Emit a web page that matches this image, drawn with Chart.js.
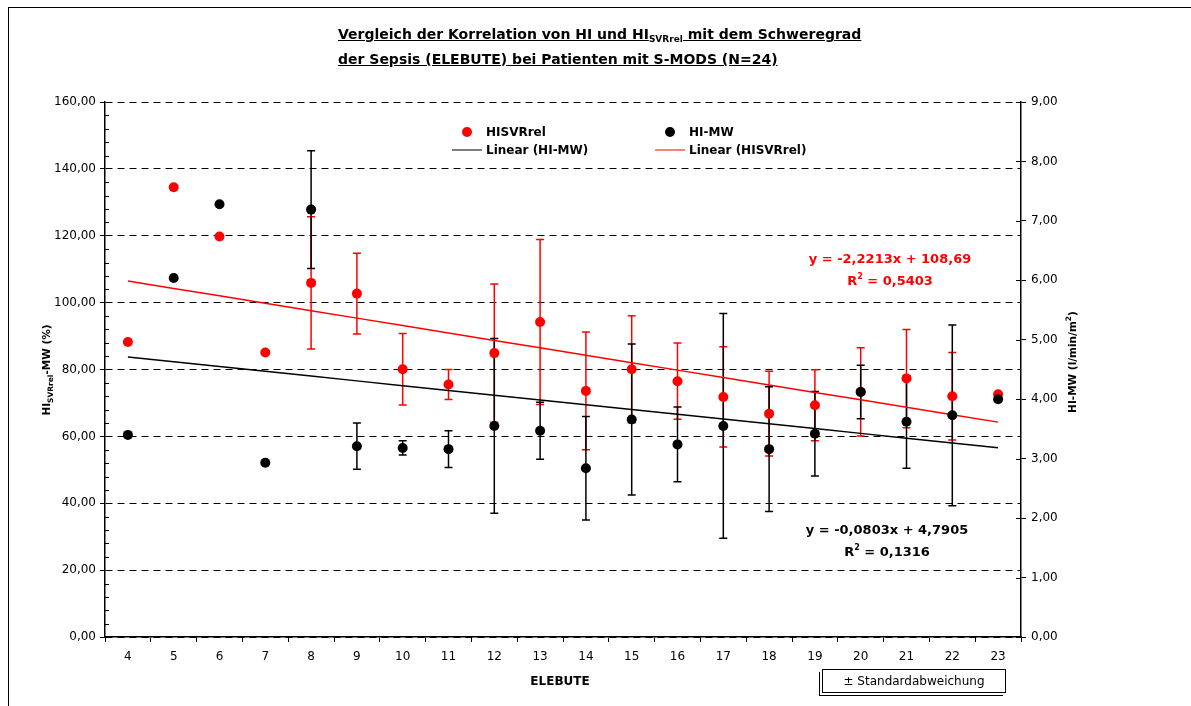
<!DOCTYPE html>
<html>
<head>
<meta charset="utf-8">
<script src="https://cdn.jsdelivr.net/npm/chart.js@4.4.1/dist/chart.umd.min.js"></script>
<style>
  html, body { margin: 0; padding: 0; background: #fff; }
  #wrap { position: relative; width: 1191px; height: 706px; overflow: hidden; font-family: "DejaVu Sans", sans-serif; color: #000; }
  canvas { position: absolute; left: 0; top: 0; }
  .frame { position: absolute; left: 8px; top: 7px; width: 1200px; height: 720px; border-top: 1px solid #000; border-left: 1px solid #000; }
  .abs { position: absolute; white-space: nowrap; }
  .title { left: 338px; top: 23px; font-weight: bold; font-size: 14px; line-height: 23px; text-decoration: underline; }
  .sub { font-size: 9px; position: relative; top: 3px; }
  .c { transform: translate(-50%, -50%); }
  .leg { font-weight: bold; font-size: 12px; transform: translateY(-50%); }
  .dot { position: absolute; width: 10px; height: 10px; border-radius: 50%; transform: translate(-50%, -50%); }
  .lline { position: absolute; height: 0; border-top: 1.5px solid; transform: translateY(-50%); }
  .eq { font-weight: bold; font-size: 13px; }
  .rot { transform: translate(-50%, -50%) rotate(-90deg); font-weight: bold; font-size: 10.5px; }
  .box { position: absolute; left: 822px; top: 669px; width: 182px; height: 22px; border: 1px solid #000; box-shadow: -2px 2px 0 0 #fff, -3px 3px 0 0 #000; font-size: 12px; line-height: 22px; text-align: center; background: #fff; }
</style>
</head>
<body>
<div id="wrap">
  <canvas id="c" width="1191" height="706"></canvas>
  <div class="frame"></div>
  <div class="abs title">Vergleich der Korrelation von HI und HI<span class="sub">SVRrel</span> mit dem Schweregrad<br>der Sepsis (ELEBUTE) bei Patienten mit S-MODS (N=24)</div>
  <div id="legend"></div>
  <div class="abs eq c" style="left:890px; top:258px; color:#ff0000;">y = -2,2213x + 108,69</div>
  <div class="abs eq c" style="left:890px; top:280px; color:#ff0000;">R<sup style="font-size:8px">2</sup> = 0,5403</div>
  <div class="abs eq c" style="left:887px; top:529px;">y = -0,0803x + 4,7905</div>
  <div class="abs eq c" style="left:887px; top:551px;">R<sup style="font-size:8px">2</sup> = 0,1316</div>
  <div class="abs rot" style="left:46px; top:370px;">HI<span class="sub" style="font-size:7.5px">SVRrel</span>-MW (%)</div>
  <div class="abs rot" style="left:1071px; top:362px;">HI-MW (l/min/m<sup style="font-size:7.5px">2</sup>)</div>
  <div class="abs c" style="left:560px; top:681px; font-weight:bold; font-size:12px;">ELEBUTE</div>
  <div class="box">± Standardabweichung</div>
</div>
<script>
// ---- data ----
const categories = ['4','5','6','7','8','9','10','11','12','13','14','15','16','17','18','19','20','21','22','23'];
const hisvrrelMean = [88.2, 134.5, 119.8, 85.1, 105.9, 102.7, 80.1, 75.5, 84.9, 94.2, 73.6, 80.1, 76.5, 71.8, 66.8, 69.3, 73.3, 77.3, 72.0, 72.6];
const hisvrrelSd   = [null, null, null, null, 19.8, 12.1, 10.7, 4.5, 20.7, 24.7, 17.6, 16.0, 11.4, 15.0, 12.7, 10.6, 13.2, 14.7, 13.1, null];
const himwMean = [3.40, 6.04, 7.28, 2.93, 7.19, 3.21, 3.18, 3.16, 3.55, 3.47, 2.84, 3.66, 3.24, 3.55, 3.16, 3.42, 4.12, 3.62, 3.73, 4.00];
const himwSd   = [null, null, null, null, 0.99, 0.39, 0.12, 0.31, 1.47, 0.48, 0.87, 1.27, 0.63, 1.89, 1.05, 0.71, 0.45, 0.78, 1.52, null];
const leftTicks = [0, 20, 40, 60, 80, 100, 120, 140, 160];
const rightTicks = [0, 1, 2, 3, 4, 5, 6, 7, 8, 9];
// trendline coefficients as printed in the chart (x = 1..20 category index)
const trendHisvrrel = { slope: -2.2213, intercept: 108.69 };
const trendHimw = { slope: -0.0803, intercept: 4.7905 };

const trendHisvrrelData = categories.map((c, i) => trendHisvrrel.intercept + trendHisvrrel.slope * (i + 1));
const trendHimwData = categories.map((c, i) => trendHimw.intercept + trendHimw.slope * (i + 1));

const FONT = '"DejaVu Sans", sans-serif';
const fmt = v => Number(v).toFixed(2).replace('.', ',');

const errorBars = {
  id: 'errorBars',
  beforeDatasetsDraw(chart) {
    const ctx = chart.ctx;
    const xs = chart.scales.x;
    const sets = [
      { mean: hisvrrelMean, sd: hisvrrelSd, scale: chart.scales.y, color: '#ff0000' },
      { mean: himwMean, sd: himwSd, scale: chart.scales.y2, color: '#000000' }
    ];
    ctx.save();
    ctx.lineWidth = 1.5;
    sets.forEach(s => {
      ctx.strokeStyle = s.color;
      s.mean.forEach((m, i) => {
        if (s.sd[i] == null) return;
        const x = xs.getPixelForValue(i);
        const yt = s.scale.getPixelForValue(m + s.sd[i]);
        const yb = s.scale.getPixelForValue(m - s.sd[i]);
        ctx.beginPath();
        ctx.moveTo(x, yt); ctx.lineTo(x, yb);
        ctx.moveTo(x - 4, yt); ctx.lineTo(x + 4, yt);
        ctx.moveTo(x - 4, yb); ctx.lineTo(x + 4, yb);
        ctx.stroke();
      });
    });
    ctx.restore();
  },
  afterDraw(chart) {
    const ctx = chart.ctx;
    const a = chart.chartArea;
    const ys = chart.scales.y, y2 = chart.scales.y2;
    ctx.save();
    ctx.strokeStyle = '#000';
    ctx.lineWidth = 1;
    ctx.beginPath();
    for (let v = 0; v <= 160; v += 4) {
      if (v % 20 === 0) continue;
      const py = Math.round(ys.getPixelForValue(v)) + 0.5;
      ctx.moveTo(a.left, py); ctx.lineTo(a.left + 4, py);
    }
    rightTicks.forEach(v => {
      const py = Math.round(y2.getPixelForValue(v)) + 0.5;
      ctx.moveTo(a.right - 5, py); ctx.lineTo(a.right, py);
    });
    ctx.stroke();
    ctx.restore();
  }
};

const datasets = [
  { label: 'HI-MW', data: himwMean, yAxisID: 'y2', showLine: false, pointRadius: 5, pointBackgroundColor: '#000', pointBorderColor: '#000', borderColor: '#000', backgroundColor: '#000', pointBorderWidth: 0 },
  { label: 'HISVRrel', data: hisvrrelMean, yAxisID: 'y', showLine: false, pointRadius: 5, pointBackgroundColor: '#ff0000', pointBorderColor: '#ff0000', borderColor: '#ff0000', backgroundColor: '#ff0000', pointBorderWidth: 0 },
  { label: 'Linear (HI-MW)', data: trendHimwData, yAxisID: 'y2', borderColor: '#000', borderWidth: 1.5, pointRadius: 0, fill: false, tension: 0 },
  { label: 'Linear (HISVRrel)', data: trendHisvrrelData, yAxisID: 'y', borderColor: '#ff0000', borderWidth: 1.5, pointRadius: 0, fill: false, tension: 0 }
];

const chart = new Chart(document.getElementById('c').getContext('2d'), {
  type: 'line',
  data: { labels: categories, datasets },
  plugins: [errorBars],
  options: {
    responsive: false,
    animation: false,
    devicePixelRatio: 1,
    layout: { padding: { top: 102, left: 0, right: 0, bottom: 0 } },
    plugins: { legend: { display: false }, tooltip: { enabled: false }, title: { display: false } },
    scales: {
      x: {
        type: 'category', offset: true,
        grid: { offset: true, drawOnChartArea: false, drawTicks: true, tickLength: 5, color: '#000', lineWidth: 1 },
        border: { color: '#000', width: 1.5 },
        ticks: { color: '#000', font: { family: FONT, size: 12 }, padding: 8, maxRotation: 0, autoSkip: false },
        afterFit(s) { s.height = 69; }
      },
      y: {
        position: 'left', min: 0, max: 160,
        afterBuildTicks(s) { s.ticks = leftTicks.map(v => ({ value: v })); },
        ticks: { color: '#000', font: { family: FONT, size: 12 }, padding: 4, callback: v => fmt(v) },
        grid: { color: '#000', lineWidth: 1, tickLength: 5, tickColor: '#000' },
        border: { color: '#000', width: 1.5, dash: [7, 5] },
        afterFit(s) { s.width = 105; }
      },
      y2: {
        position: 'right', min: 0, max: 9,
        afterBuildTicks(s) { s.ticks = rightTicks.map(v => ({ value: v })); },
        ticks: { color: '#000', font: { family: FONT, size: 12 }, padding: 5, callback: v => fmt(v) },
        grid: { drawOnChartArea: false, tickLength: 5, color: '#000', lineWidth: 1 },
        border: { color: '#000', width: 1.5 },
        afterFit(s) { s.width = 170; }
      }
    }
  }
});

// legend built from datasets
(function buildLegend() {
  const L = document.getElementById('legend');
  const byLabel = {};
  datasets.forEach(d => byLabel[d.label] = d);
  const items = [
    { label: 'HISVRrel', kind: 'dot', mx: 467, tx: 486, y: 131.5 },
    { label: 'HI-MW', kind: 'dot', mx: 670, tx: 689, y: 131.5 },
    { label: 'Linear (HI-MW)', kind: 'line', mx: 452, tx: 486, y: 150 },
    { label: 'Linear (HISVRrel)', kind: 'line', mx: 655, tx: 689, y: 150 }
  ];
  items.forEach(it => {
    const d = byLabel[it.label];
    const col = d.borderColor;
    let m = document.createElement('div');
    if (it.kind === 'dot') {
      m.className = 'dot';
      m.style.left = it.mx + 'px'; m.style.top = it.y + 'px'; m.style.background = col;
    } else {
      m.className = 'lline';
      m.style.left = it.mx + 'px'; m.style.top = it.y + 'px'; m.style.width = '30px'; m.style.borderColor = col;
    }
    L.appendChild(m);
    const t = document.createElement('div');
    t.className = 'abs leg';
    t.style.left = it.tx + 'px'; t.style.top = it.y + 'px';
    t.textContent = it.label;
    L.appendChild(t);
  });
})();
</script>
</body>
</html>
